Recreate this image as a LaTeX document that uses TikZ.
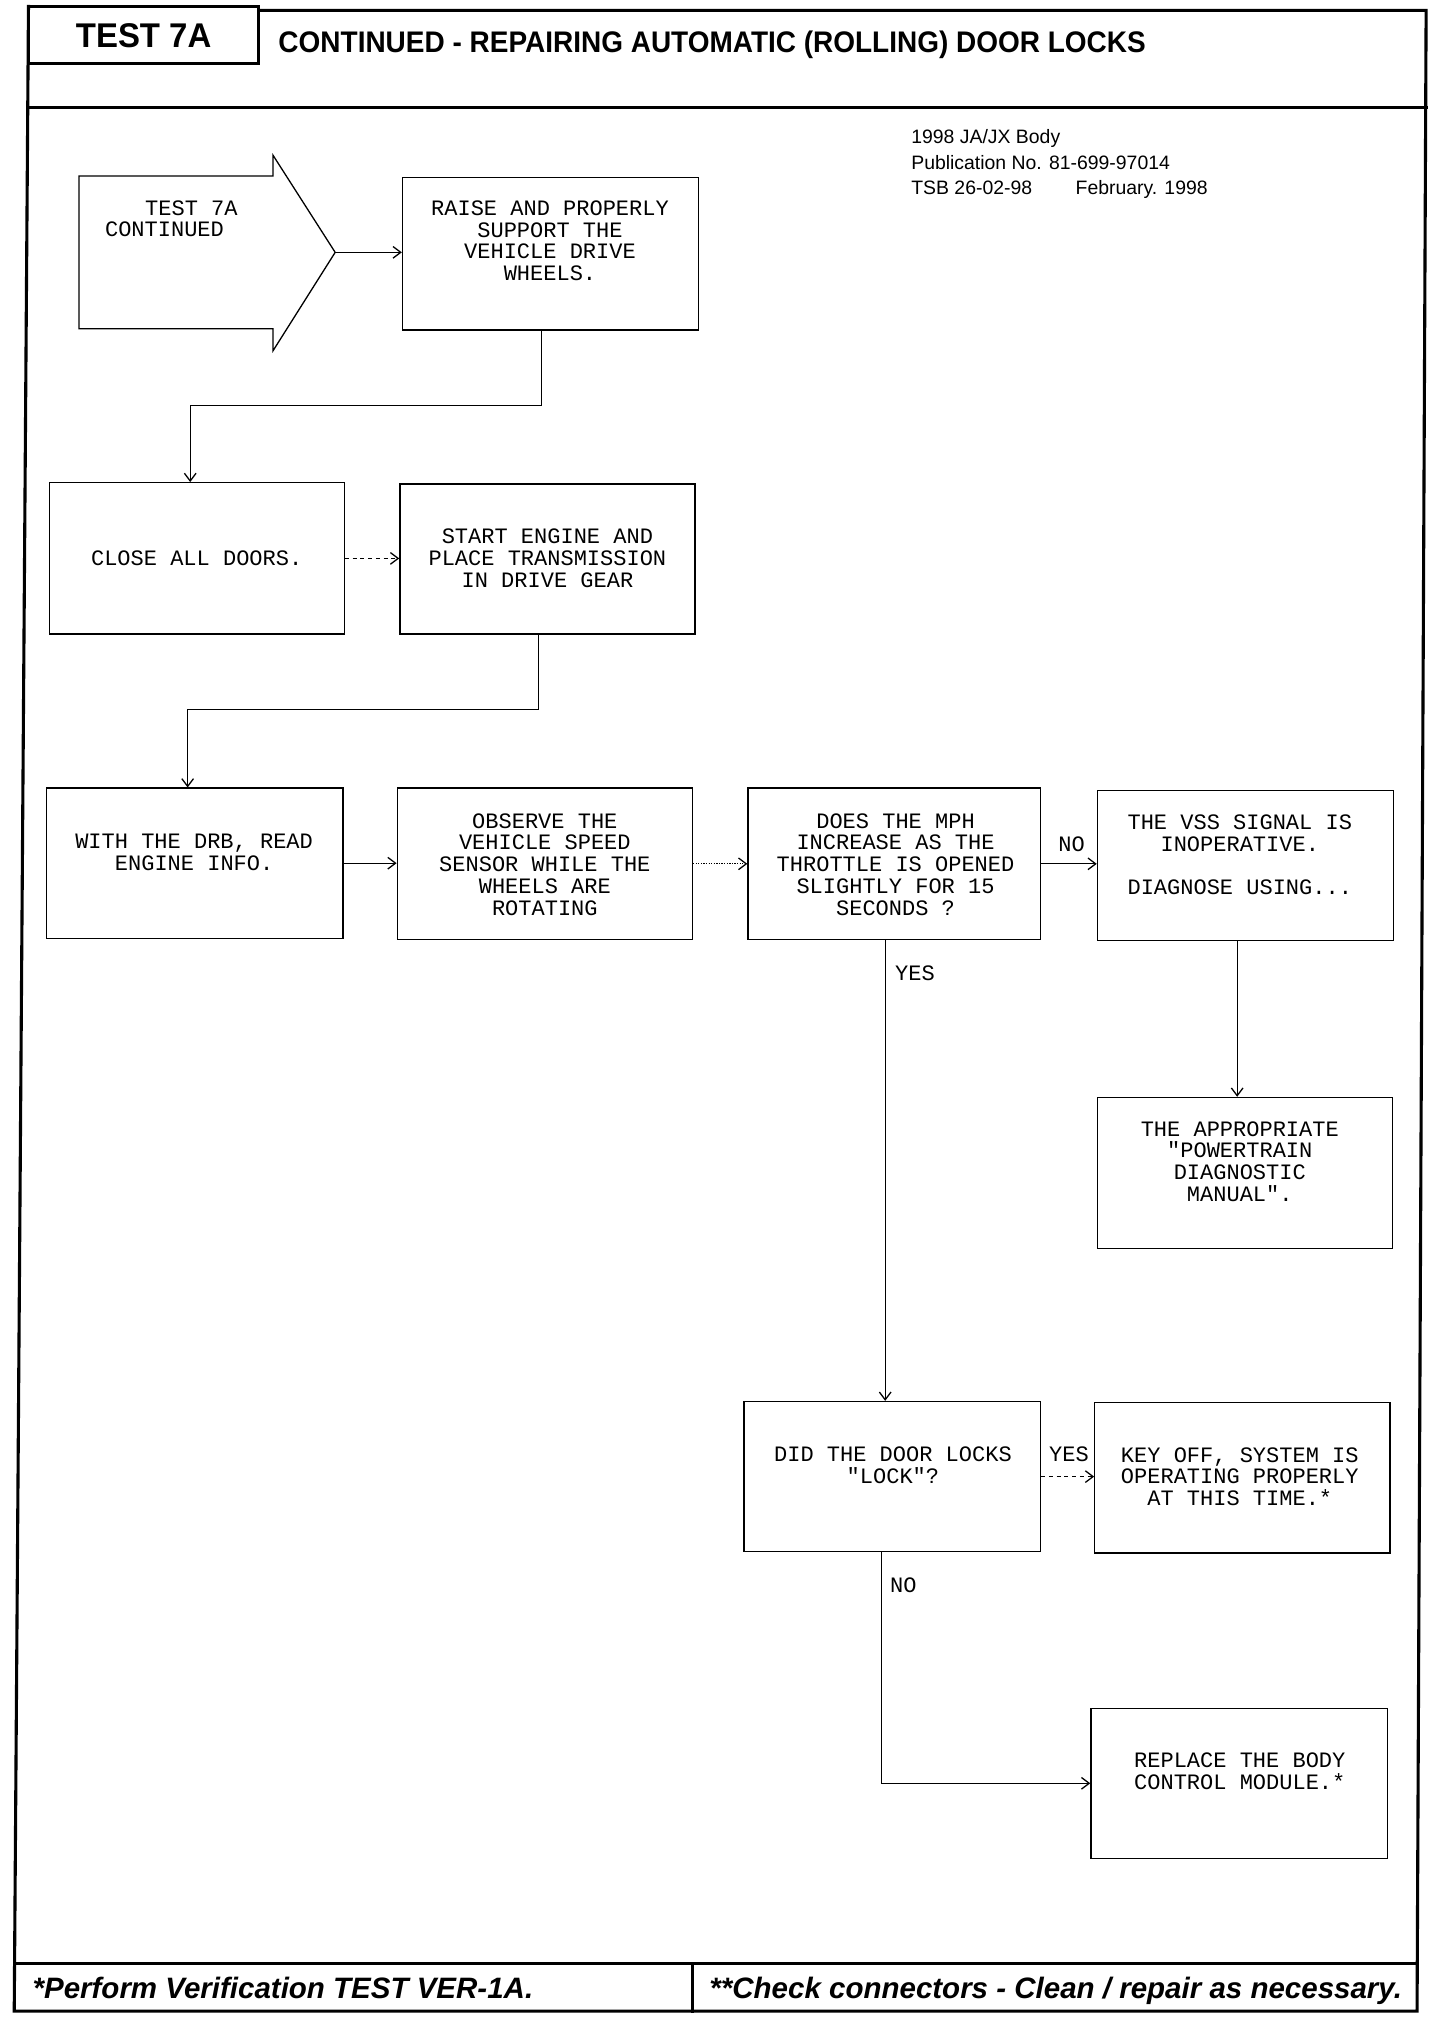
\documentclass[tikz,border=0pt]{standalone}
\usepackage{fontspec}
\setmainfont{Liberation Sans}
\newfontfamily\typew{Liberation Mono}
\usetikzlibrary{arrows.meta}
\begin{document}
\begin{tikzpicture}[x=1pt,y=-1pt,
  frame/.style={line width=2.4pt, line cap=rect},
  box/.style={draw, line width=1pt, inner sep=0pt},
  btxt/.style={font=\typew\fontsize{17}{16.8}\selectfont, align=center, inner sep=0pt},
  lbl/.style={font=\typew\fontsize{17}{16.8}\selectfont, inner sep=0pt},
  arr/.style={line width=1pt, -{Straight Barb[length=6pt,width=9pt,line width=1pt]}},
  pub/.style={font=\fontsize{15}{18}\selectfont, inner sep=0pt, anchor=base west},
  foot/.style={font=\bfseries\itshape\fontsize{22.8}{26}\selectfont, inner sep=0pt, anchor=base west}
]
\useasboundingbox (0,0) rectangle (1125,1564);
\fill[white] (0,0) rectangle (1125,1564);

% ---------- frame ----------
\draw[frame] (22,5) rectangle (200,49);
\draw[frame] (200,8) -- (1102,8) -- (1095,1554) -- (11,1554) -- (22,5);
\draw[frame] (22,83) -- (1102,83);
\draw[frame] (11.3,1517) -- (1095.2,1517);
\draw[frame] (535,1517) -- (535,1554);

\node[font=\bfseries\fontsize{26.5}{30}\selectfont, inner sep=0pt, anchor=base] (hdtest) at (111,36.5) {\scalebox{0.96}[1]{TEST 7A}};
\node[font=\bfseries\fontsize{23}{28}\selectfont, inner sep=0pt, anchor=base west] (hdtitle) at (215,40.5) {\scalebox{0.94}[1]{CONTINUED - REPAIRING AUTOMATIC (ROLLING) DOOR LOCKS}};

\node[pub] (pub1) at (704,111) {1998 JA/JX Body};
\node[pub] (pub2) at (704,131) {Publication No. 81-699-97014};
\node[pub] (pub3) at (704,150.5) {TSB 26-02-98};
\node[pub] (pub4) at (831,150.5) {February. 1998};

\node[foot] (ft1) at (25,1544) {*Perform Verification TEST VER-1A.};
\node[foot] (ft2) at (548,1544) {**Check connectors - Clean / repair as necessary.};

% ---------- boxes ----------
\draw[line width=1pt] (61,136) -- (211,136) -- (211,120) -- (259,195) -- (211,271) -- (211,254) -- (61,254) -- cycle;
\coordinate (b1tip) at (259,195);
\node[btxt, align=left, anchor=west] (b1txt) at (81,169) {\hspace*{31pt}TEST 7A\\CONTINUED};

\node[box, minimum width=229pt, minimum height=118pt] (b2) at (425.5,196) {};
\node[btxt] (t2) at (425,186) {RAISE AND PROPERLY\\SUPPORT THE\\VEHICLE DRIVE\\WHEELS.};

\node[box, minimum width=228pt, minimum height=117pt] (b3) at (152,431.5) {};
\node[btxt] (t3) at (152,431) {CLOSE ALL DOORS.};

\node[box, minimum width=228pt, minimum height=116pt] (b4) at (423,432) {};
\node[btxt] (t4) at (423,431.5) {START ENGINE AND\\PLACE TRANSMISSION\\IN DRIVE GEAR};

\node[box, minimum width=229pt, minimum height=116pt] (b5) at (150.5,667) {};
\node[btxt] (t5) at (150,658.5) {WITH THE DRB, READ\\ENGINE INFO.};

\node[box, minimum width=228pt, minimum height=117pt] (b6) at (421,667.5) {};
\node[btxt] (t6) at (421,668) {OBSERVE THE\\VEHICLE SPEED\\SENSOR WHILE THE\\WHEELS ARE\\ROTATING};

\node[box, minimum width=226pt, minimum height=117pt] (b7) at (691,667.5) {};
\node[btxt] (t7) at (692,668) {DOES THE MPH\\INCREASE AS THE\\THROTTLE IS OPENED\\SLIGHTLY FOR 15\\SECONDS ?};

\node[box, minimum width=229pt, minimum height=116pt] (b8) at (962.5,669) {};
\node[btxt] (t8) at (958,660.5) {THE VSS SIGNAL IS\\INOPERATIVE.\\[16.8pt]DIAGNOSE USING...};

\node[box, minimum width=228pt, minimum height=117pt] (b9) at (962,906.5) {};
\node[btxt] (t9) at (958,897.5) {THE APPROPRIATE\\"POWERTRAIN\\DIAGNOSTIC\\MANUAL".};

\node[box, minimum width=229pt, minimum height=116pt] (b10) at (689.5,1141) {};
\node[btxt] (t10) at (690,1132.5) {DID THE DOOR LOCKS\\"LOCK"?};

\node[box, minimum width=228pt, minimum height=116pt] (b11) at (960,1142) {};
\node[btxt] (t11) at (958,1141) {KEY OFF, SYSTEM IS\\OPERATING PROPERLY\\AT THIS TIME.*};

\node[box, minimum width=229pt, minimum height=116pt] (b12) at (957.5,1378) {};
\node[btxt] (t12) at (958,1368.5) {REPLACE THE BODY\\CONTROL MODULE.*};

% ---------- connectors ----------
\draw[arr] (b1tip) -- (b1tip -| b2.west);
\draw[arr] ([xshift=-7pt]b2.south) -- ++(0,58) -| ([xshift=-5pt]b3.north);
\draw[arr, dashed] (b3.east) -- (b3.east -| b4.west);
\draw[arr] ([xshift=-7pt]b4.south) -- ++(0,58) -| ([xshift=-5.5pt]b5.north);
\draw[arr] (b5.east) -- (b5.east -| b6.west);
\draw[arr, densely dotted] (b6.east) -- (b6.east -| b7.west);
\draw[arr] (b7.east) -- (b7.east -| b8.west);
\draw[arr] ([xshift=-7pt]b7.south) -- ([xshift=-7pt]b7.south |- b10.north);
\draw[arr] ([xshift=-6.5pt]b8.south) -- ([xshift=-6.5pt]b8.south |- b9.north);
\draw[arr, dashed] (b10.east) -- (b10.east -| b11.west);
\draw[arr] ([xshift=-8.5pt]b10.south) |- (b12.west);

\node[lbl] (lno1) at (828,652) {NO};
\node[lbl] (lyes1) at (707,752) {YES};
\node[lbl] (lyes2) at (826,1124) {YES};
\node[lbl] (lno2) at (698,1225) {NO};
\end{tikzpicture}
\end{document}
